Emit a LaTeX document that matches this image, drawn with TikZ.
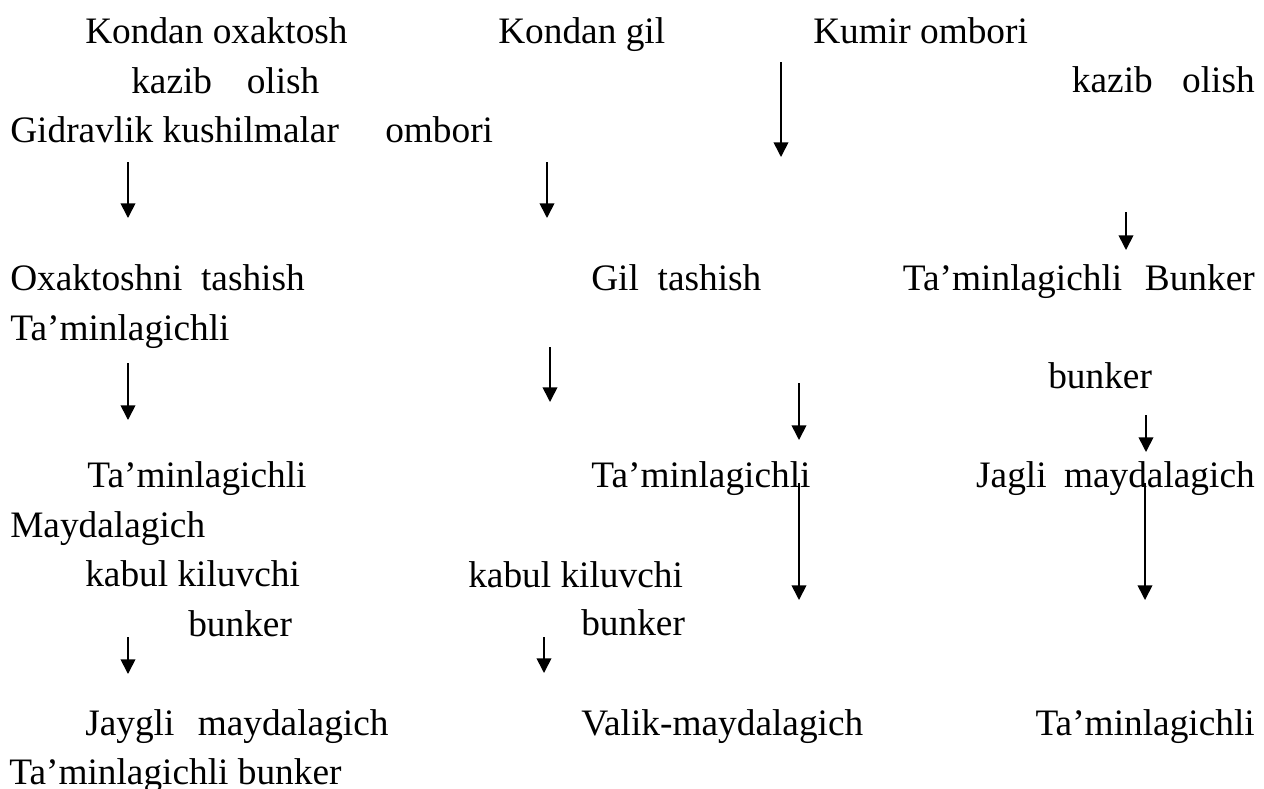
\documentclass[tikz,border=0pt]{standalone}
\usepackage{fontspec}
\setmainfont{Liberation Serif}
\usetikzlibrary{arrows.meta}

\begin{document}
\begin{tikzpicture}[x=0.75pt, y=-0.75pt, >={Triangle[length=11pt,width=11pt]},
    txt/.style={anchor=base west, inner sep=0pt, font=\fontsize{28}{34}\selectfont},
    rtxt/.style={txt, anchor=base east},
    flow/.style={->, line width=1.25pt}]
    \fill[white] (0,0) rectangle (1264,789);
    \useasboundingbox (0,0) rectangle (1264,789);
    % first lines
    \node[txt] (lime) at (85,43) {Kondan oxaktosh};
    \node[txt] (clay) at (498,43) {Kondan gil};
    \node[txt] (coal) at (813,43) {Kumir ombori};
    \node[txt] (limedig) at (131,93) {kazib\hspace{26pt}olish};
    \node[rtxt] (claydig) at (1255,92) {kazib\hspace{22pt}olish};
    \node[txt] (gyp) at (10,142) {Gidravlik kushilmalar};
    \node[txt] (gypstore) at (385,142) {ombori};
    % transport
    \node[txt] (limetr) at (10,290) {Oxaktoshni~ tashish};
    \node[txt] (claytr) at (591,290) {Gil~ tashish};
    \node[rtxt] (coalbin) at (1255,290) {Ta’minlagichli\hspace{17pt}Bunker};
    \node[txt] (gypfeed) at (10,340) {Ta’minlagichli};
    \node[txt] (coalbinb) at (1048,388) {bunker};
    % feeders
    \node[txt] (limefeed) at (87,487) {Ta’minlagichli};
    \node[txt] (clayfeed) at (591,487) {Ta’minlagichli};
    \node[rtxt] (coalcr) at (1255,487) {Jagli\hspace{13pt}maydalagich};
    \node[txt] (gypcr) at (10,537) {Maydalagich};
    \node[txt] (limerecv) at (85,586) {kabul kiluvchi};
    \node[txt] (clayrecv) at (468,587) {kabul kiluvchi};
    \node[txt] (limebin) at (188,636) {bunker};
    \node[txt] (claybin) at (581,635) {bunker};
    % crushers
    \node[txt] (limecr) at (85,735) {Jaygli\hspace{17.5pt}maydalagich};
    \node[txt] (claycr) at (581,735) {Valik-maydalagich};
    \node[rtxt] (coalfeed) at (1255,735) {Ta’minlagichli};
    \node[txt] (gypbin) at (9,784) {Ta’minlagichli bunker};
    % arrows
    \foreach \x/\ya/\yb [count=\i] in {781/62/157, 128/162/218, 547/162/218, 1126/212/250,
        128/363/420, 550/347/402, 799/383/440, 1146/415/452,
        799/483/600, 1145/483/600, 128/637/674, 544/637/673} {
        \coordinate (s\i) at (\x,\ya);
        \coordinate (e\i) at (\x,\yb);
        \draw[flow] (s\i) -- (e\i);
    }
\end{tikzpicture}
\end{document}
